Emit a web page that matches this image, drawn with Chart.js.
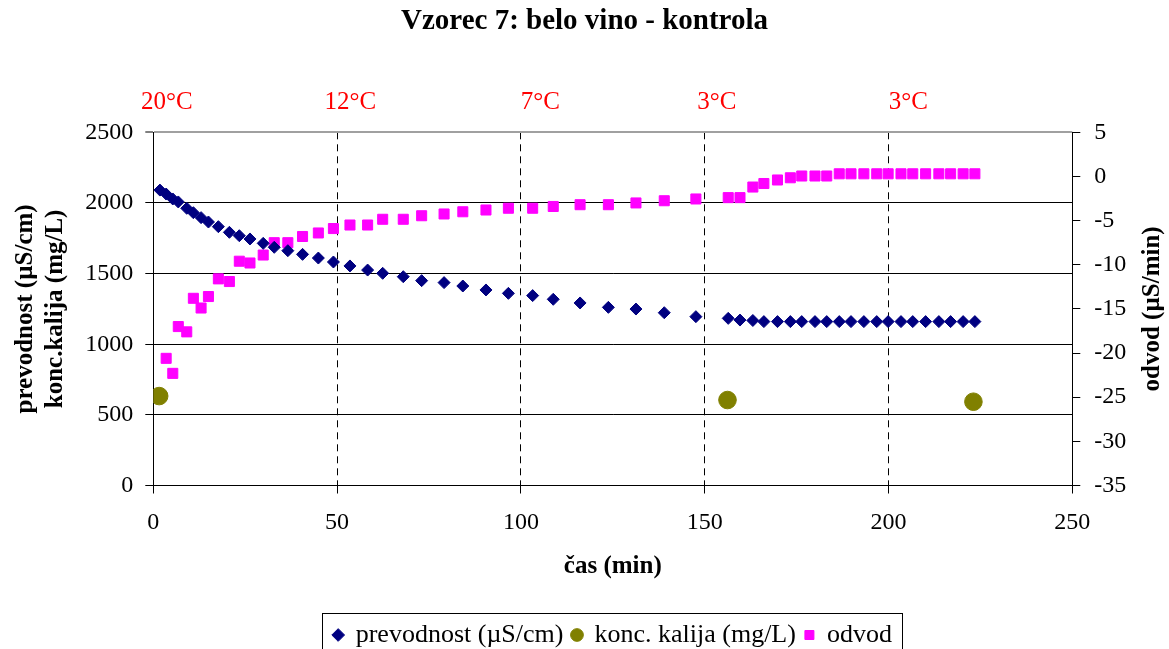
<!DOCTYPE html>
<html>
<head>
<meta charset="utf-8">
<title>Vzorec 7: belo vino - kontrola</title>
<script src="https://cdn.jsdelivr.net/npm/chart.js@4.4.1/dist/chart.umd.min.js"></script>
<style>
html,body{margin:0;padding:0;background:#fff;}
#wrap{width:1169px;height:649px;}
</style>
</head>
<body>
<div id="wrap"><canvas id="chart" width="1169" height="649"></canvas></div>
<script>
// measuring times (min)
const CAS = [1.8, 3.5, 5.3, 6.8, 9.1, 10.9, 13.0, 15.0, 17.7, 20.7, 23.4, 26.3, 29.9, 32.9, 36.6, 40.6, 44.9, 49.0,
  53.5, 58.3, 62.4, 68.0, 73.0, 79.1, 84.2, 90.5, 96.6, 103.2, 108.8, 116.1, 123.8, 131.3, 139.0, 147.6,
  156.4, 159.6, 163.1, 166.1, 169.8, 173.3, 176.4, 180.0, 183.2, 186.6, 189.8, 193.3, 196.8, 199.9,
  203.4, 206.6, 210.1, 213.7, 216.9, 220.3, 223.5];

// prevodnost (uS/cm), one per time
const PREVODNOST = [2091, 2063, 2028, 2007, 1962, 1931, 1896, 1865, 1832, 1792, 1768, 1745, 1714, 1686, 1662, 1636, 1610, 1582,
  1554, 1525, 1502, 1478, 1450, 1436, 1412, 1384, 1360, 1344, 1318, 1292, 1261, 1249, 1223, 1195,
  1183, 1171, 1168, 1160, 1160, 1160, 1160, 1160, 1160, 1160, 1160, 1160, 1160, 1160,
  1160, 1160, 1160, 1160, 1160, 1160, 1160];

// odvod (uS/min), starts at the 2nd time
const ODVOD = [-20.6, -22.3, -17.0, -17.6, -13.8, -14.9, -13.6, -11.6, -11.9, -9.6, -9.8, -8.9, -7.5, -7.5, -6.8, -6.4, -5.9,
  -5.5, -5.5, -4.85, -4.85, -4.45, -4.25, -4.0, -3.8, -3.6, -3.6, -3.4, -3.2, -3.2, -3.0, -2.75, -2.55,
  -2.4, -2.4, -1.2, -0.8, -0.4, -0.15, 0.05, 0.05, 0.05, 0.3, 0.3, 0.3, 0.3, 0.3, 0.3,
  0.3, 0.3, 0.3, 0.3, 0.3, 0.3];

// konc. kalija (mg/L)
const KALIJ_CAS = [1.6, 156.2, 223.1];
const KALIJ = [633, 605, 593];

// temperature steps written above the plot
const TEMP_LABELS = ['20°C', '12°C', '7°C', '3°C', '3°C'];
const TEMP_CAS = [3.7, 53.6, 105.3, 153.3, 205.4];

const SERIF = '"Liberation Serif", "Times New Roman", serif';

const pts = (xs, ys) => ys.map((v, i) => ({x: xs[i], y: v}));
const plain = v => String(v);

const extras = {
  id: 'extras',
  afterDraw(chart){
    const {ctx, chartArea, scales} = chart;
    ctx.save();
    ctx.fillStyle = '#ff0000';
    ctx.font = '25px ' + SERIF;
    ctx.textAlign = 'center';
    ctx.textBaseline = 'middle';
    TEMP_LABELS.forEach((t, i) => ctx.fillText(t, scales.x.getPixelForValue(TEMP_CAS[i]), 102.5));
    // right axis title, reads bottom to top like the left one
    ctx.fillStyle = '#000';
    ctx.font = 'bold 25px ' + SERIF;
    ctx.translate(1153, (chartArea.top + chartArea.bottom) / 2);
    ctx.rotate(-Math.PI / 2);
    ctx.fillText('odvod (µS/min)', 0, 0);
    ctx.restore();
    // frame round the legend
    const lg = chart.legend, hb = lg.legendHitBoxes;
    if (hb && hb.length){
      const last = hb[hb.length - 1];
      const l = Math.round(hb[0].left - 12) + 0.5;
      const r = Math.round(last.left + last.width + 10) + 0.5;
      const t = Math.round(lg.top) + 0.5;
      ctx.save();
      ctx.strokeStyle = '#000';
      ctx.lineWidth = 1;
      ctx.strokeRect(l, t, r - l, 60);
      ctx.restore();
    }
  }
};

new Chart(document.getElementById('chart'), {
  type: 'scatter',
  data: {
    datasets: [
      {label: 'prevodnost (µS/cm)', data: pts(CAS, PREVODNOST), yAxisID: 'y',
       pointStyle: 'rectRot', pointRadius: 6, borderWidth: 1,
       backgroundColor: '#000080', borderColor: '#000080'},
      {label: 'konc. kalija (mg/L)', data: pts(KALIJ_CAS, KALIJ), yAxisID: 'y',
       pointStyle: 'circle', pointRadius: 8.8, borderWidth: 1,
       backgroundColor: '#808000', borderColor: '#808000'},
      {label: 'odvod', data: pts(CAS.slice(1), ODVOD), yAxisID: 'y1',
       pointStyle: 'rect', pointRadius: 7.1, borderWidth: 1,
       backgroundColor: '#ff00ff', borderColor: '#ff00ff'}
    ]
  },
  options: {
    responsive: false,
    animation: false,
    devicePixelRatio: 1,
    events: [],
    layout: {padding: 0},
    plugins: {
      title: {display: true, text: 'Vzorec 7: belo vino - kontrola', color: '#000',
        font: {family: SERIF, size: 29, weight: 'bold'}, padding: {top: 4, bottom: 93.5}},
      legend: {position: 'bottom', fullSize: false, maxHeight: 36,
        labels: {usePointStyle: true, boxWidth: 9, boxHeight: 9, padding: 9, color: '#000',
          font: {family: SERIF, size: 26}}},
      tooltip: {enabled: false}
    },
    scales: {
      x: {type: 'linear', position: 'bottom', min: 0, max: 250,
        afterFit: s => { s.height = 127.5; },
        ticks: {stepSize: 50, color: '#000', padding: 15, callback: plain, font: {family: SERIF, size: 24}},
        grid: {color: c => (c.tick && (c.tick.value === 0 || c.tick.value === 250)) ? 'rgba(0,0,0,0)' : '#000',
          tickColor: '#000', tickLength: 8, tickBorderDash: []},
        border: {color: '#000', width: 1, dash: [7, 5]},
        title: {display: true, text: 'čas (min)', color: '#000',
          font: {family: SERIF, size: 25, weight: 'bold'}, padding: {top: 0, bottom: 31}}},
      y: {position: 'left', min: 0, max: 2500,
        afterFit: s => { s.width = 153.3; },
        ticks: {stepSize: 500, color: '#000', padding: 12, callback: plain, font: {family: SERIF, size: 24}},
        grid: {color: c => (c.tick && c.tick.value === 2500) ? '#a0a0a0' : '#000',
          lineWidth: c => (c.tick && c.tick.value === 2500) ? 2 : 1,
          tickColor: '#000', tickWidth: 1, tickLength: 8},
        border: {color: '#000', width: 1},
        title: {display: true, text: ['prevodnost (µS/cm)', 'konc.kalija (mg/L)'], color: '#000',
          font: {family: SERIF, size: 25, weight: 'bold', lineHeight: 1.2}, padding: {top: 11, bottom: 0}}},
      y1: {position: 'right', min: -35, max: 5,
        afterFit: s => { s.width = 96.7; },
        ticks: {stepSize: 5, color: '#000', padding: 14, callback: plain, font: {family: SERIF, size: 24}},
        grid: {drawOnChartArea: false, tickColor: '#000', tickLength: 8},
        border: {color: '#000', width: 1}}
    }
  },
  plugins: [extras]
});
</script>
</body>
</html>
